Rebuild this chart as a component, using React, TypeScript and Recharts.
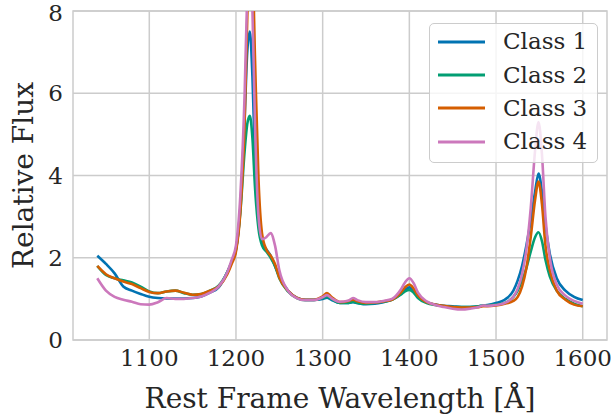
import { LineChart, Line, XAxis, YAxis, CartesianGrid, Legend, ReferenceArea, Label } from 'recharts';

const wavelength = [
  1040, 1050, 1060, 1070, 1080, 1090, 1100, 1110, 1120, 1130, 1140, 1150, 1160, 1170, 1180, 1190, 1195,
  1200, 1205, 1210, 1213, 1216, 1219, 1222, 1226, 1230, 1235, 1240, 1245, 1250, 1260, 1270, 1280, 1290,
  1300, 1305, 1310, 1320, 1330, 1335, 1340, 1350, 1360, 1370, 1380, 1390, 1395, 1400, 1405, 1410, 1420,
  1430, 1440, 1450, 1460, 1470, 1480, 1485, 1490, 1500, 1510, 1520, 1525, 1530, 1535, 1540, 1545, 1549,
  1553, 1557, 1562, 1570, 1580, 1590, 1600,
];

const class1 = [
  2.05, 1.85, 1.62, 1.3, 1.2, 1.12, 1.05, 1.02, 1.01, 1.01, 1.01, 1.02, 1.06, 1.15, 1.28, 1.65, 1.9,
  2.2, 3.2, 5.4, 7.0, 7.5, 6.4, 4.4, 2.9, 2.4, 2.2, 2.05, 1.8, 1.55, 1.2, 1.03, 0.98, 0.98,
  1.0, 1.03, 0.98, 0.9, 0.9, 0.92, 0.9, 0.87, 0.88, 0.92, 0.98, 1.12, 1.22, 1.28, 1.2, 1.05, 0.92,
  0.86, 0.83, 0.82, 0.8, 0.8, 0.82, 0.84, 0.85, 0.9, 0.98, 1.2, 1.45, 1.8, 2.3, 2.9, 3.6, 4.05,
  3.6, 2.8, 2.1, 1.5, 1.2, 1.05, 0.97,
];

const class2 = [
  1.8, 1.58, 1.5, 1.45, 1.4, 1.3, 1.18, 1.14, 1.18, 1.2, 1.14, 1.1, 1.12, 1.2, 1.32, 1.65, 1.9,
  2.2, 3.1, 4.6, 5.25, 5.45, 4.9, 3.7, 2.7, 2.3, 2.15, 2.0, 1.8, 1.5, 1.18, 1.02, 0.97, 0.97,
  1.02, 1.05, 1.0, 0.9, 0.9, 0.93, 0.9, 0.88, 0.9, 0.93, 0.98, 1.1, 1.18, 1.22, 1.15, 1.02, 0.9,
  0.85, 0.82, 0.8, 0.8, 0.8, 0.82, 0.84, 0.84, 0.86, 0.9, 1.05, 1.2, 1.45, 1.75, 2.15, 2.5, 2.62,
  2.4, 1.95, 1.55, 1.2, 1.0, 0.88, 0.82,
];

const class3 = [
  1.8, 1.6, 1.5, 1.42, 1.36, 1.26, 1.17, 1.14, 1.18, 1.2, 1.15, 1.1, 1.12, 1.2, 1.3, 1.6, 1.85,
  2.15, 3.1, 5.3, 7.8, 9.6, 9.2, 6.8, 3.9, 2.6, 2.2, 2.05, 1.85, 1.52, 1.2, 1.03, 0.98, 0.98,
  1.06, 1.14, 1.05, 0.92, 0.95, 0.98, 0.94, 0.9, 0.91, 0.94, 0.98, 1.15, 1.28, 1.35, 1.25, 1.08, 0.92,
  0.86, 0.83, 0.8, 0.79, 0.79, 0.8, 0.82, 0.82, 0.84, 0.88, 0.95, 1.05, 1.3, 1.75, 2.5, 3.4, 3.85,
  3.3, 2.3, 1.7, 1.2, 0.98, 0.86, 0.82,
];

const class4 = [
  1.5, 1.2, 1.05, 0.98, 0.93, 0.87, 0.86, 0.92, 1.02, 1.0, 1.0, 1.02, 1.06, 1.15, 1.3, 1.65, 1.95,
  2.3, 3.5, 6.0, 8.4, 9.3, 8.0, 5.2, 3.0, 2.45, 2.5, 2.6, 2.3, 1.7, 1.2, 1.02, 0.97, 0.97,
  1.04, 1.09, 1.02, 0.93, 0.96, 1.02, 0.97, 0.92, 0.92, 0.95, 1.0, 1.22, 1.4, 1.5, 1.38, 1.15, 0.94,
  0.85, 0.8, 0.76, 0.74, 0.76, 0.8, 0.84, 0.83, 0.85, 0.9, 1.05, 1.25, 1.6, 2.2, 3.2, 4.6, 5.3,
  4.5, 3.0, 2.0, 1.35, 1.08, 0.95, 0.88,
];

const seriesNames = ['Class 1', 'Class 2', 'Class 3', 'Class 4'];
const seriesColors = ['#0173b2', '#029e73', '#d55e00', '#cc78bc'];
const xTicks = [1100, 1200, 1300, 1400, 1500, 1600];
const yTicks = [0, 2, 4, 6, 8];

const data = wavelength.map((w, i) => ({
  w,
  c1: class1[i],
  c2: class2[i],
  c3: class3[i],
  c4: class4[i],
}));

const FONT = 'DejaVu Serif';
const TEXT = '#262626';
const GRID = '#cccccc';

const LegendBox = () => (
  <div
    style={{
      background: 'rgba(255,255,255,0.8)',
      border: `1.5px solid ${GRID}`,
      borderRadius: 5,
      padding: '1px 10px 3px 8px',
      fontFamily: FONT,
      fontSize: 23,
      color: TEXT,
      lineHeight: 1,
    }}
  >
    {seriesNames.map((name, i) => (
      <div key={name} style={{ display: 'flex', alignItems: 'center', height: 33.4 }}>
        <svg width={47} height={6} style={{ marginRight: 18 }}>
          <line x1={0} y1={3} x2={47} y2={3} stroke={seriesColors[i]} strokeWidth={3} />
        </svg>
        <span>{name}</span>
      </div>
    ))}
  </div>
);

const XTitle = (props: any) => {
  const { viewBox } = props;
  return (
    <text
      x={viewBox.x + viewBox.width / 2}
      y={viewBox.y + 68}
      textAnchor="middle"
      fontFamily={FONT}
      fontSize={28}
      fill={TEXT}
    >
      Rest Frame Wavelength [Å]
    </text>
  );
};

const YTitle = (props: any) => {
  const { viewBox } = props;
  const x = viewBox.x + 33;
  const y = viewBox.y + viewBox.height / 2;
  return (
    <text
      x={x}
      y={y}
      transform={`rotate(-90, ${x}, ${y})`}
      textAnchor="middle"
      fontFamily={FONT}
      fontSize={28}
      fill={TEXT}
    >
      Relative Flux
    </text>
  );
};

export default function App() {
  return (
    <div style={{ position: 'fixed', left: 0, top: 0, width: 613, height: 415, background: '#fff' }}>
      <LineChart width={613} height={415} data={data} margin={{ top: 11, right: 6, bottom: 0, left: 0 }}>
        <CartesianGrid stroke={GRID} strokeWidth={1.5} horizontalValues={yTicks} verticalValues={xTicks} />
        <ReferenceArea x1={1012} x2={1628} y1={0} y2={8} fill="none" stroke={GRID} strokeWidth={1.5} />
        <XAxis
          type="number"
          dataKey="w"
          domain={[1012, 1628]}
          ticks={xTicks}
          allowDataOverflow
          height={75}
          tickLine={false}
          axisLine={false}
          tickSize={0}
          tickMargin={10}
          tick={{ fontFamily: FONT, fontSize: 23, fill: TEXT }}
        >
          <Label content={XTitle} />
        </XAxis>
        <YAxis
          type="number"
          domain={[0, 8]}
          ticks={yTicks}
          allowDataOverflow
          width={73}
          tickLine={false}
          axisLine={false}
          tickSize={0}
          tickMargin={10}
          tick={{ fontFamily: FONT, fontSize: 23, fill: TEXT }}
        >
          <Label content={YTitle} />
        </YAxis>
        <Legend
          layout="vertical"
          align="center"
          verticalAlign="middle"
          content={() => <LegendBox />}
          wrapperStyle={{ left: 429, top: 23, width: 'auto' }}
        />
        {['c1', 'c2', 'c3', 'c4'].map((key, i) => (
          <Line
            key={key}
            type="monotone"
            dataKey={key}
            name={seriesNames[i]}
            stroke={seriesColors[i]}
            strokeWidth={2.6}
            dot={false}
            isAnimationActive={false}
          />
        ))}
      </LineChart>
    </div>
  );
}
